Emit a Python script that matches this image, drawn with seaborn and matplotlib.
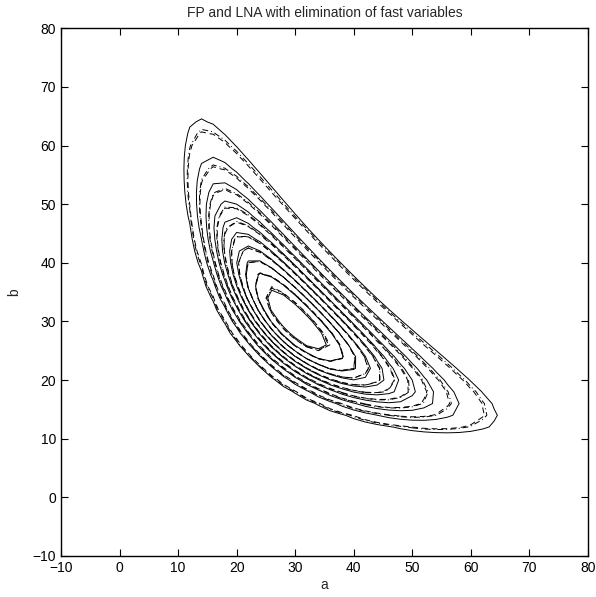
import numpy as np
import matplotlib
matplotlib.use("Agg")
import matplotlib.pyplot as plt
import seaborn as sns

# grid on which the stationary distributions were evaluated
a_grid = np.arange(2, 82, 2)
b_grid = np.arange(2, 82, 2)

# shape of the banana-shaped distribution
# (in log(a*b), log(a/b) coordinates)
log_ab_center = 6.80
bend = 0.09
sd_log_ab = 0.2375
sd_log_ratio = 0.767

# FP, LNA, LNA with elimination of fast variables
series_names = ["FP", "LNA", "LNA reduced"]
series_spread_ab = [1.0, 0.96, 0.98]
series_spread_ratio = [1.0, 0.94, 0.95]
series_peak = [1.0, 1.03, 1.02]
series_styles = ["solid", (0, (6, 4)), (0, (6, 3, 1, 3))]
n_levels = 10

A, B = np.meshgrid(a_grid, b_grid)
s = np.log(A * B)
t = np.log(A / B)


def density(kw, kt, peak):
    w = s - log_ab_center + bend * t ** 2
    sw = sd_log_ab * kw
    st = sd_log_ratio * kt
    return peak * np.exp(-0.5 * ((w / sw) ** 2 + (t / st) ** 2))


fields = [density(kw, kt, p) for kw, kt, p in
          zip(series_spread_ab, series_spread_ratio, series_peak)]
levels = np.linspace(0, fields[0].max(), n_levels + 2)[1:-1]

sns.set_style("ticks")
plt.rcParams['font.family'] = ['Liberation Sans', 'DejaVu Sans']
plt.rcParams['axes.unicode_minus'] = True

fig = plt.figure(figsize=(5.96, 5.97), dpi=100)
ax = fig.add_axes([0.1023, 0.0687, 0.884, 0.884])

for field, ls in zip(fields, series_styles):
    ax.contour(A, B, field, levels=levels, colors="k", linewidths=0.7,
               linestyles=[ls])

ax.set_xlim(-10, 80)
ax.set_ylim(-10, 80)
ax.set_xticks(range(-10, 81, 10))
ax.set_yticks(range(-10, 81, 10))
ax.tick_params(direction="in", top=True, right=True, length=5, width=0.8,
               labelsize=10, colors="k")
for sp in ax.spines.values():
    sp.set_visible(True)
    sp.set_linewidth(1.0)
    sp.set_color("k")

ax.set_title("FP and LNA with elimination of fast variables", fontsize=10, pad=8)
ax.set_xlabel("a", fontsize=10, labelpad=2)
ax.set_ylabel("b", fontsize=10, labelpad=8)

fig.savefig("out.png", dpi=100)
